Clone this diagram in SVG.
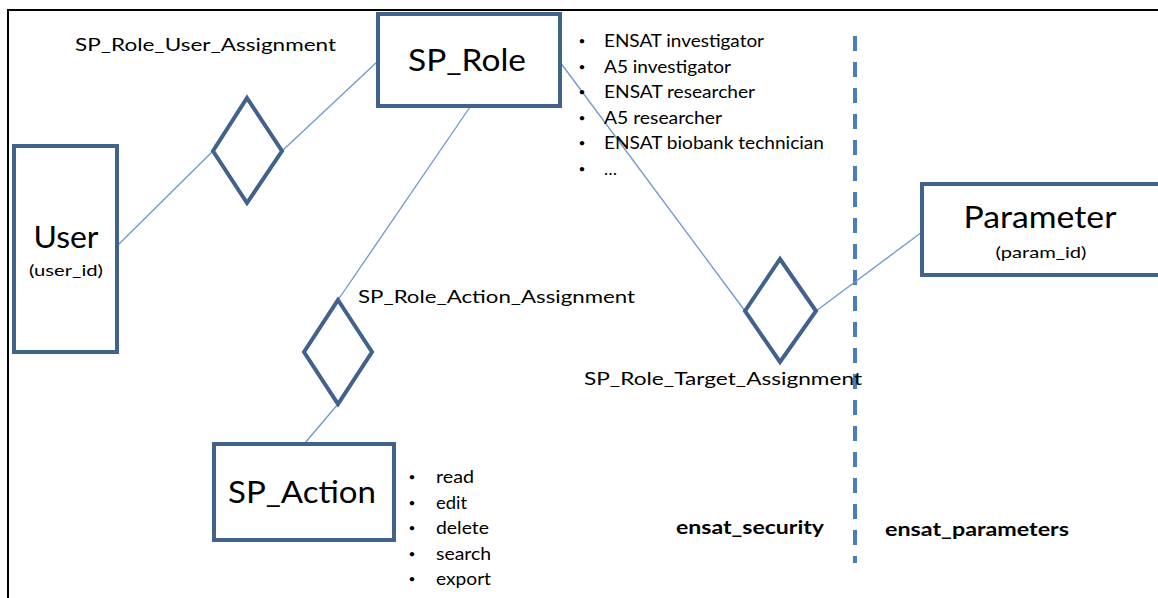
<svg xmlns="http://www.w3.org/2000/svg" width="1158" height="598" viewBox="0 0 1158 598">
  <style>
    .entity { fill: #ffffff; stroke: #41628d; stroke-width: 4; }
    .rel { fill: #ffffff; stroke: #41628d; stroke-width: 4; stroke-linejoin: miter; }
    .link { stroke: #6f97cc; stroke-width: 1.3; fill: none; }
    .divider { stroke: #4a7ebb; stroke-width: 4; stroke-dasharray: 15 11; }
    text { font-family: "Lato", "Open Sans", "Liberation Sans", sans-serif; fill: #000000; }
    .title { font-size: 30px; text-anchor: middle; }
    .sub { font-size: 15px; text-anchor: middle; }
    .label { font-size: 18px; }
    .item { font-size: 17px; }
    .dot { font-size: 12px; text-anchor: middle; }
    .bold { font-size: 18px; font-weight: bold; }
  </style>

  <rect width="1158" height="598" fill="#ffffff"/>
  <!-- page frame -->
  <rect x="8" y="10" width="1200" height="650" fill="none" stroke="#000000" stroke-width="2"/>

  <!-- schema divider -->
  <line class="divider" x1="855" y1="36" x2="855" y2="563"/>

  <!-- connectors -->
  <g id="connectors">
    <line class="link" x1="117" y1="246" x2="213" y2="151"/>
    <line class="link" x1="282" y1="151" x2="377" y2="62"/>
    <line class="link" x1="470" y1="107" x2="338" y2="300"/>
    <line class="link" x1="338" y1="404" x2="305" y2="443"/>
    <line class="link" x1="560" y1="62" x2="745" y2="311"/>
    <line class="link" x1="816" y1="311" x2="922" y2="232"/>
  </g>

  <g id="user">
    <rect class="entity" x="14" y="146" width="103" height="206"/>
    <text class="title" x="66" y="248" textLength="65" lengthAdjust="spacingAndGlyphs">User</text>
    <text class="sub" x="66" y="276" textLength="74" lengthAdjust="spacingAndGlyphs">(user_id)</text>
  </g>

  <g id="sp_role">
    <rect class="entity" x="378" y="14" width="182" height="92"/>
    <text class="title" x="467" y="71" textLength="118" lengthAdjust="spacingAndGlyphs">SP_Role</text>
  </g>

  <g id="sp_action">
    <rect class="entity" x="214" y="444" width="180" height="96"/>
    <text class="title" x="302" y="503" textLength="148" lengthAdjust="spacingAndGlyphs">SP_Action</text>
  </g>

  <g id="parameter">
    <rect class="entity" x="922" y="184" width="260" height="91"/>
    <text class="title" x="1040" y="228" textLength="153" lengthAdjust="spacingAndGlyphs">Parameter</text>
    <text class="sub" x="1041" y="258" font-size="16" textLength="91" lengthAdjust="spacingAndGlyphs">(param_id)</text>
  </g>

  <g id="sp_role_user_assignment">
    <polygon class="rel" points="247,98 282,151 247,203 213,151"/>
    <text class="label" x="75" y="51" textLength="261" lengthAdjust="spacingAndGlyphs">SP_Role_User_Assignment</text>
  </g>

  <g id="sp_role_action_assignment">
    <polygon class="rel" points="338,300 372,352 338,404 304,352"/>
    <text class="label" x="358" y="303" textLength="277" lengthAdjust="spacingAndGlyphs">SP_Role_Action_Assignment</text>
  </g>

  <g id="sp_role_target_assignment">
    <polygon class="rel" points="780,259 816,311 780,362 745,311"/>
    <text class="label" x="584" y="385" textLength="278" lengthAdjust="spacingAndGlyphs">SP_Role_Target_Assignment</text>
  </g>

  <g id="role_list">
    <g class="dot">
      <text x="582" y="45">•</text>
      <text x="582" y="71">•</text>
      <text x="582" y="96">•</text>
      <text x="582" y="122">•</text>
      <text x="582" y="147">•</text>
      <text x="582" y="173">•</text>
    </g>
    <g class="item">
      <text x="604" y="47" textLength="160" lengthAdjust="spacingAndGlyphs">ENSAT investigator</text>
      <text x="604" y="73" textLength="127" lengthAdjust="spacingAndGlyphs">A5 investigator</text>
      <text x="604" y="98" textLength="151" lengthAdjust="spacingAndGlyphs">ENSAT researcher</text>
      <text x="604" y="124" textLength="118" lengthAdjust="spacingAndGlyphs">A5 researcher</text>
      <text x="604" y="149" textLength="220" lengthAdjust="spacingAndGlyphs">ENSAT biobank technician</text>
      <text x="604" y="175" textLength="13" lengthAdjust="spacingAndGlyphs">…</text>
    </g>
  </g>

  <g id="action_list">
    <g class="dot">
      <text x="412" y="481">•</text>
      <text x="412" y="507">•</text>
      <text x="412" y="532">•</text>
      <text x="412" y="558">•</text>
      <text x="412" y="583">•</text>
    </g>
    <g class="item">
      <text x="436" y="483" textLength="38" lengthAdjust="spacingAndGlyphs">read</text>
      <text x="436" y="509" textLength="31" lengthAdjust="spacingAndGlyphs">edit</text>
      <text x="436" y="534" textLength="53" lengthAdjust="spacingAndGlyphs">delete</text>
      <text x="436" y="560" textLength="55" lengthAdjust="spacingAndGlyphs">search</text>
      <text x="436" y="585" textLength="55" lengthAdjust="spacingAndGlyphs">export</text>
    </g>
  </g>

  <g id="schema_labels">
    <text class="bold" x="676" y="534" textLength="148" lengthAdjust="spacingAndGlyphs">ensat_security</text>
    <text class="bold" x="885" y="536" textLength="184" lengthAdjust="spacingAndGlyphs">ensat_parameters</text>
  </g>
</svg>
